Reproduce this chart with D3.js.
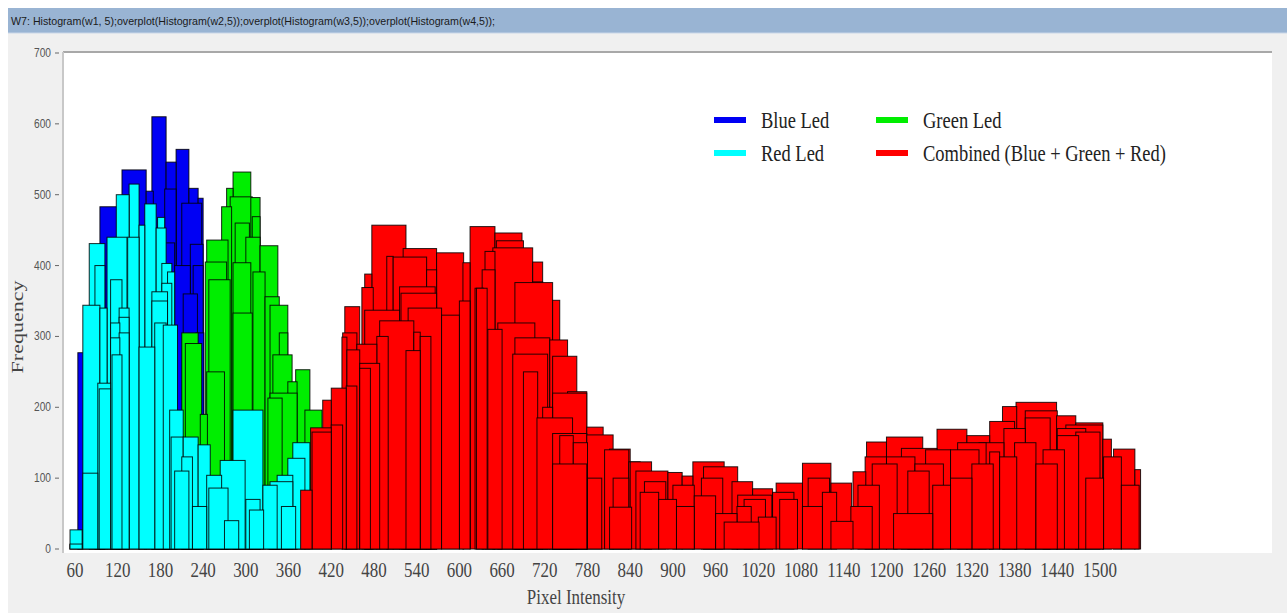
<!DOCTYPE html>
<html>
<head>
<meta charset="utf-8">
<title>Histogram overplot</title>
<script src="https://cdn.jsdelivr.net/npm/d3@7"></script>
<style>
  body { margin: 0; background: #fff; }
  svg { display: block; }
</style>
</head>
<body>
<div id="chart"></div>
<script>
// bars as [start, end, frequency] in pixel-intensity units
var blueLed = [
  [53, 71, 6], [64, 95, 277], [95, 126, 483], [126, 160, 535], [160, 170, 505],
  [168, 188, 610], [186, 202, 508], [188, 202, 546], [202, 220, 564], [210, 238, 488],
  [220, 233, 509], [233, 240, 495], [222, 240, 430], [226, 240, 400], [230, 241, 305],
  [150, 175, 380], [175, 200, 432], [200, 222, 400], [212, 232, 360]
];

var greenLed = [
  [210, 233, 305], [215, 238, 290], [236, 246, 190], [245, 275, 436], [243, 273, 405],
  [248, 278, 380], [266, 280, 483], [273, 282, 509], [282, 307, 532], [278, 309, 497],
  [282, 307, 404], [282, 309, 333], [307, 320, 496], [309, 320, 469], [310, 327, 391],
  [320, 345, 428], [327, 347, 356], [334, 359, 344], [347, 359, 305], [338, 365, 274],
  [359, 372, 236], [370, 390, 253], [383, 407, 196], [331, 351, 213], [334, 372, 220],
  [245, 270, 250], [285, 305, 460], [300, 320, 440]
];

var redLed = [
  [53, 70, 27], [53, 70, 7], [71, 95, 344], [71, 92, 107], [80, 102, 431],
  [88, 102, 400], [95, 105, 340], [92, 110, 234], [94, 110, 226], [105, 133, 440],
  [110, 126, 380], [110, 123, 319], [110, 123, 298], [112, 126, 274], [118, 136, 500],
  [122, 136, 340], [122, 136, 327], [122, 136, 305], [136, 150, 515], [134, 150, 440],
  [150, 158, 457], [150, 172, 285], [158, 174, 487], [174, 188, 453], [176, 186, 468],
  [182, 196, 403], [182, 196, 375], [168, 190, 363], [168, 190, 350], [172, 188, 319],
  [190, 200, 391], [184, 204, 316], [193, 212, 196], [195, 212, 158], [212, 233, 158],
  [233, 250, 147], [245, 266, 104], [264, 299, 125], [282, 324, 196], [248, 275, 86],
  [324, 344, 90], [334, 366, 95], [344, 366, 104], [366, 390, 150], [359, 383, 128],
  [300, 320, 70], [305, 325, 55], [270, 290, 40], [225, 245, 60], [200, 220, 110],
  [210, 225, 130], [350, 370, 60]
];

var combined = [
  [377, 393, 83], [391, 420, 171], [408, 420, 210], [420, 441, 227], [435, 442, 299],
  [436, 456, 305], [439, 460, 342], [442, 460, 281], [460, 488, 262], [456, 484, 289],
  [463, 479, 369], [467, 477, 388], [477, 525, 457], [467, 516, 337], [488, 536, 322],
  [498, 507, 413], [507, 554, 412], [521, 568, 424], [516, 566, 370], [518, 568, 361],
  [528, 575, 340], [536, 545, 306], [554, 568, 394], [568, 606, 418], [605, 615, 404],
  [615, 650, 455], [622, 634, 368], [624, 639, 368], [632, 650, 394], [636, 650, 420],
  [650, 688, 446], [652, 690, 435], [647, 703, 425], [703, 717, 405], [703, 717, 377],
  [678, 731, 376], [731, 741, 351], [654, 706, 319], [678, 727, 298], [675, 724, 275],
  [727, 752, 295], [731, 765, 272], [752, 779, 222], [731, 779, 220], [709, 759, 185],
  [731, 779, 163], [779, 802, 172], [779, 816, 161], [804, 838, 140], [811, 842, 59],
  [838, 854, 123], [731, 779, 120], [811, 840, 141], [840, 870, 123], [848, 893, 110],
  [893, 913, 108], [913, 928, 103], [928, 972, 123], [943, 991, 116], [983, 1012, 95],
  [1012, 1040, 85], [991, 1039, 76], [1045, 1082, 93], [1082, 1122, 121], [1122, 1151, 93],
  [1153, 1171, 109], [1172, 1200, 151], [1200, 1251, 158], [1221, 1271, 142], [1271, 1313, 169],
  [1313, 1345, 160], [1345, 1359, 137], [1359, 1383, 130], [1363, 1383, 201], [1382, 1439, 207],
  [1439, 1466, 188], [1466, 1504, 178], [1452, 1504, 175], [1504, 1516, 155], [1519, 1549, 141],
  [1549, 1557, 112],
  [393, 420, 165], [420, 436, 175], [441, 456, 230], [460, 475, 255], [484, 500, 300],
  [525, 545, 280], [545, 560, 300], [575, 600, 330], [600, 615, 350], [640, 660, 310],
  [690, 710, 250], [717, 731, 200], [741, 760, 160], [760, 780, 150], [780, 800, 100],
  [816, 838, 100], [854, 880, 80], [880, 905, 70], [905, 930, 60], [930, 960, 75],
  [960, 990, 50], [990, 1010, 60], [1020, 1045, 45], [1050, 1075, 70], [1082, 1110, 60],
  [1110, 1130, 80], [1160, 1190, 90], [1180, 1215, 120], [1210, 1265, 50], [1230, 1260, 110],
  [1265, 1290, 90], [1290, 1330, 140], [1330, 1365, 150], [1365, 1395, 170], [1395, 1430, 185],
  [1420, 1450, 140], [1440, 1480, 170], [1480, 1505, 100], [1505, 1530, 130], [1530, 1555, 90],
  [972, 1021, 38], [1122, 1153, 39],
  [1200, 1240, 130], [1240, 1280, 120], [1290, 1320, 100], [1300, 1340, 150], [1345, 1380, 180],
  [1395, 1440, 195], [1440, 1470, 160], [1466, 1500, 165], [1150, 1180, 60], [1170, 1200, 130],
  [1255, 1290, 140], [1320, 1350, 120], [1380, 1410, 150], [1410, 1440, 120], [860, 890, 95],
  [900, 930, 90], [940, 970, 100], [1000, 1030, 70], [1090, 1120, 100], [1040, 1070, 80]
];

var xTicks = [60, 120, 180, 240, 300, 360, 420, 480, 540, 600, 660, 720, 780, 840, 900,
              960, 1020, 1080, 1140, 1200, 1260, 1320, 1380, 1440, 1500];
var yTicks = [0, 100, 200, 300, 400, 500, 600, 700];

var series = [
  { name: "Blue Led", color: "#0000f4", bars: blueLed },
  { name: "Green Led", color: "#00ee00", bars: greenLed },
  { name: "Red Led", color: "#00ffff", bars: redLed },
  { name: "Combined (Blue + Green + Red)", color: "#ff0000", bars: combined }
];

var W = 1287, H = 613;
var plot = { left: 63, right: 1272, top: 52, bottom: 553 };
var squeeze = 0.77;   // the original figure is squashed sideways

var svg = d3.select("#chart").append("svg")
  .attr("width", W).attr("height", H);

svg.append("rect").attr("x", 8).attr("y", 33).attr("width", W - 8).attr("height", H - 33)
  .attr("fill", "#f0f0f0");

// title bar
svg.append("rect").attr("x", 8).attr("y", 8).attr("width", W - 8).attr("height", 25)
  .attr("fill", "#99b4d3");
svg.append("line").attr("x1", 8).attr("x2", W).attr("y1", 33).attr("y2", 33)
  .attr("stroke", "#c9d7e8");
svg.append("text")
  .attr("x", 11).attr("y", 25)
  .attr("font-family", "Liberation Sans, Arial, sans-serif")
  .attr("font-size", 11)
  .attr("fill", "#1a1a1a")
  .attr("textLength", 484).attr("lengthAdjust", "spacingAndGlyphs")
  .text("W7: Histogram(w1, 5);overplot(Histogram(w2,5));overplot(Histogram(w3,5));overplot(Histogram(w4,5));");

// plot area
svg.append("rect").attr("x", plot.left).attr("y", plot.top)
  .attr("width", plot.right - plot.left).attr("height", plot.bottom - plot.top)
  .attr("fill", "#fff");

var x = d3.scaleLinear().domain([60, 1500]).range([75, 1100]);
var y = d3.scaleLinear().domain([0, 700]).range([549, 53]);

// histograms, each one tallest first so the short ones show their outlines
series.forEach(function(s) {
  var bars = s.bars.slice().sort(function(a, b) { return b[2] - a[2]; });
  svg.append("g").selectAll("rect")
    .data(bars)
    .enter().append("rect")
    .attr("x", function(d) { return x(d[0]); })
    .attr("width", function(d) { return x(d[1]) - x(d[0]); })
    .attr("y", function(d) { return y(d[2]); })
    .attr("height", function(d) { return y(0) - y(d[2]); })
    .attr("fill", s.color)
    .attr("stroke", "#000")
    .attr("stroke-opacity", 0.85)
    .attr("stroke-width", 1);
});

// frame lines
svg.append("line").attr("x1", plot.left).attr("x2", plot.right)
  .attr("y1", plot.top).attr("y2", plot.top)
  .attr("stroke", "#a8a8a8").attr("stroke-width", 2);
svg.append("line").attr("x1", plot.left).attr("x2", plot.left)
  .attr("y1", plot.top).attr("y2", plot.bottom)
  .attr("stroke", "#c8c8c8").attr("stroke-width", 2);

// y axis
var yAxis = svg.append("g");
yAxis.selectAll("line").data(yTicks).enter().append("line")
  .attr("x1", 55).attr("x2", 59)
  .attr("y1", function(d) { return y(d); }).attr("y2", function(d) { return y(d); })
  .attr("stroke", "#666");
yAxis.selectAll("text").data(yTicks).enter().append("text")
  .attr("transform", function(d) { return "translate(51," + (y(d) + 4) + ") scale(0.85,1)"; })
  .attr("text-anchor", "end")
  .attr("font-family", "Liberation Sans, Arial, sans-serif")
  .attr("font-size", 12)
  .attr("fill", "#555")
  .text(function(d) { return d; });

// x tick labels
svg.append("g").selectAll("text").data(xTicks).enter().append("text")
  .attr("transform", function(d) { return "translate(" + x(d) + ",577) scale(" + squeeze + ",1)"; })
  .attr("text-anchor", "middle")
  .attr("font-family", "Liberation Serif, Times New Roman, serif")
  .attr("font-size", 22)
  .attr("fill", "#444")
  .text(function(d) { return d; });

svg.append("text")
  .attr("transform", "translate(576,604) scale(" + squeeze + ",1)")
  .attr("text-anchor", "middle")
  .attr("font-family", "Liberation Serif, Times New Roman, serif")
  .attr("font-size", 22)
  .attr("fill", "#444")
  .text("Pixel Intensity");

svg.append("text")
  .attr("transform", "translate(23,327) rotate(-90) scale(1," + squeeze + ")")
  .attr("text-anchor", "middle")
  .attr("font-family", "Liberation Serif, Times New Roman, serif")
  .attr("font-size", 22)
  .attr("fill", "#444")
  .text("Frequency");

// legend: two columns, two rows
var legendOrder = [series[0], series[2], series[1], series[3]];
var legend = svg.append("g").selectAll("g").data(legendOrder).enter().append("g")
  .attr("transform", function(d, i) {
    return "translate(" + (714 + Math.floor(i / 2) * 162) + "," + (120 + (i % 2) * 33) + ")";
  });
legend.append("line")
  .attr("x1", 0).attr("x2", 32).attr("y1", 0).attr("y2", 0)
  .attr("stroke", function(d) { return d.color; })
  .attr("stroke-width", 6);
legend.append("text")
  .attr("transform", "translate(47,8) scale(" + squeeze + ",1)")
  .attr("font-family", "Liberation Serif, Times New Roman, serif")
  .attr("font-size", 24)
  .attr("fill", "#222")
  .text(function(d) { return d.name; });
</script>
</body>
</html>
